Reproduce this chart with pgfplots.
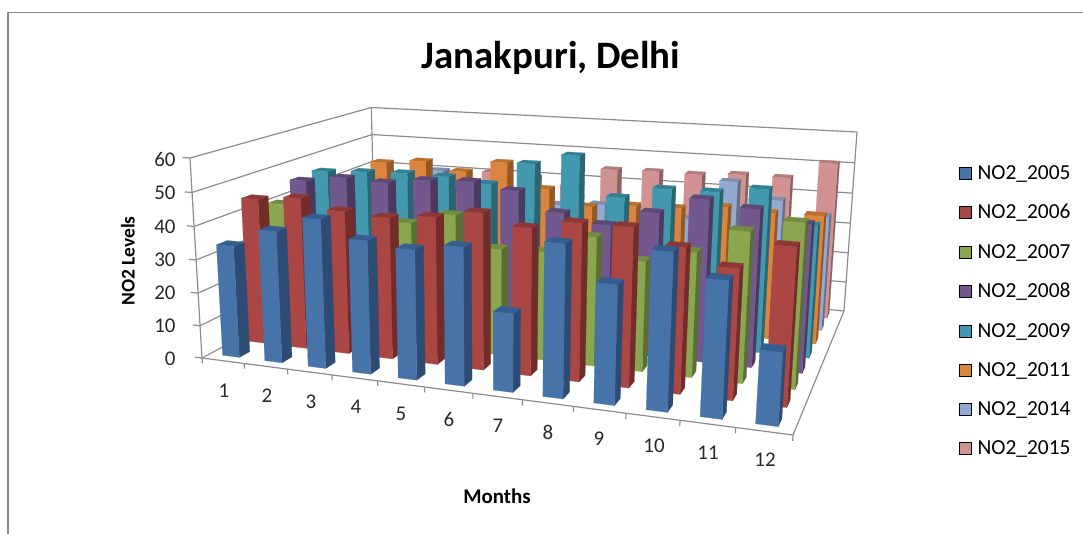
\documentclass[border=0pt]{standalone}
\usepackage{pgfplots}
\usepackage{pgfplotstable}
\usepackage{fontspec}
\setmainfont{Carlito}
\pgfplotsset{compat=1.18}

% Monthly NO2 levels, one column per year
\pgfplotstableread{
month y2005 y2006 y2007 y2008 y2009 y2011 y2014 y2015
1   33.9 45.0 40.6 45.4 45.9 40.0 36.0 34.0
2   39.5 46.3 35.0 47.3 46.7 47.4 38.0 36.0
3   44.2 43.5 31.0 46.7 47.2 48.7 43.0 38.0
4   39.2 42.6 38.0 48.4 47.0 46.1 36.0 40.8
5   37.8 43.9 41.6 49.0 45.6 50.0 38.0 40.0
6   39.8 46.3 32.4 47.1 52.9 42.3 34.0 38.0
7   22.5 43.1 32.8 41.4 56.3 37.5 35.3 44.5
8   43.2 45.6 38.4 38.8 44.3 38.9 33.0 44.8
9   33.4 45.6 32.6 43.6 47.9 39.2 32.8 44.7
10  43.5 41.2 36.5 48.6 48.0 40.6 45.8 45.6
11  37.3 36.8 43.6 46.8 49.8 39.8 40.8 45.5
12  19.9 43.9 47.2 43.6 40.0 40.0 36.7 51.0
}\notwo

% Face colours of each series: front, side, top
\definecolor{f1}{HTML}{4673A8}\definecolor{s1}{HTML}{2D4B73}\definecolor{t1}{HTML}{345D90}
\definecolor{f2}{HTML}{AA4643}\definecolor{s2}{HTML}{722D2B}\definecolor{t2}{HTML}{8E3836}
\definecolor{f3}{HTML}{8AA64F}\definecolor{s3}{HTML}{5B6E33}\definecolor{t3}{HTML}{748C41}
\definecolor{f4}{HTML}{72588F}\definecolor{s4}{HTML}{4B3A5F}\definecolor{t4}{HTML}{5E4878}
\definecolor{f5}{HTML}{4198AF}\definecolor{s5}{HTML}{2A6574}\definecolor{t5}{HTML}{338093}
\definecolor{f6}{HTML}{DB843D}\definecolor{s6}{HTML}{935826}\definecolor{t6}{HTML}{BC6F2F}
\definecolor{f7}{HTML}{94A9CF}\definecolor{s7}{HTML}{62718A}\definecolor{t7}{HTML}{7C8FB0}
\definecolor{f8}{HTML}{D19392}\definecolor{s8}{HTML}{8C6261}\definecolor{t8}{HTML}{B27C7B}
\definecolor{wall}{HTML}{8C8C8C}
\definecolor{ticktext}{HTML}{282828}
\definecolor{chartedge}{HTML}{868686}

% Perspective projection of (month position, series depth, level) onto the canvas
\newcommand\proj[5]{%
  \pgfmathsetmacro\pu{#1/12}\pgfmathsetmacro\pv{#2/8}\pgfmathsetmacro\pw{#3/60}%
  \pgfmathsetmacro\pd{1-0.154*\pu+0.2771*\pv-0.0399*\pw}%
  \pgfmathsetmacro#4{(202+468.9*\pu+277*\pv-19.6*\pw)/\pd}%
  \pgfmathsetmacro#5{534-(358+10*\pu-18.7*\pv-206.3*\pw)/\pd}%
}
% A straight frame or grid line between two projected points
\newcommand\frameline[6]{%
  \proj{#1}{#2}{#3}\lax\lay\proj{#4}{#5}{#6}\lbx\lby
  \edef\doline{\noexpand\addplot[wall,line width=1.2pt,no marks,forget plot] coordinates {(\lax,\lay) (\lbx,\lby)};}\doline
}
% Tick labels, positioned from the top edge of the canvas
\newcommand\lab[4][center]{\node[font=\fontsize{21}{22}\selectfont,text=ticktext,anchor=#1] at (axis cs:#3,534-#4) {#2};}

\begin{document}
\begin{tikzpicture}
\path[use as bounding box] (0,0) rectangle (1083bp,534bp);
\begin{axis}[
  at={(0,0)},anchor=south west,
  scale only axis,width=1083bp,height=534bp,
  xmin=0,xmax=1083,ymin=0,ymax=534,
  hide axis,clip=false,
  legend cell align=left,
  legend style={draw=none,fill=none,at={(axis cs:959,371)},anchor=north west,
    font=\fontsize{21.5}{22}\selectfont,
    /tikz/row sep=19.8bp,
    inner sep=0pt},
  legend image code/.code={\fill[#1] (0bp,-6bp) rectangle (12bp,6bp);\path (16bp,0bp);},
]
% chart area outline
\addplot[chartedge,line width=1.7pt,no marks,forget plot]
  coordinates {(8,0) (8,521.5) (1083,521.5)};

% walls and floor
\foreach \z in {0,10,...,60}{\frameline{0}{0}{\z}{0}{8}{\z}\frameline{0}{8}{\z}{12}{8}{\z}}
\frameline{0}{0}{0}{0}{0}{60}
\frameline{0}{8}{0}{0}{8}{60}
\frameline{12}{8}{0}{12}{8}{60}
\frameline{0}{0}{0}{12}{0}{0}
\frameline{12}{0}{0}{12}{8}{0}
% tick marks
\foreach \z in {0,10,...,60}{\frameline{0}{0}{\z}{-0.17}{0}{\z}}
\foreach \k in {0,...,12}{\frameline{\k}{0}{0}{\k}{0}{-1.6}}

% columns, painted from the back row forwards and right to left
\foreach \s in {8,7,...,1}{
  \foreach \m in {12,11,...,1}{
    \pgfmathtruncatemacro\row{\m-1}
    \pgfplotstablegetelem{\row}{[index]\s}\of\notwo
    \let\val\pgfplotsretval
    \pgfmathsetmacro\xa{\m-0.7}\pgfmathsetmacro\xb{\m-0.3}
    \pgfmathsetmacro\ya{\s-0.7}\pgfmathsetmacro\yb{\s-0.3}
    \proj{\xa}{\ya}{0}\Ax\Ay
    \proj{\xb}{\ya}{0}\Bx\By
    \proj{\xb}{\yb}{0}\Cx\Cy
    \proj{\xa}{\ya}{\val}\ax\ay
    \proj{\xb}{\ya}{\val}\bx\by
    \proj{\xb}{\yb}{\val}\cx\cy
    \proj{\xa}{\yb}{\val}\tdx\tdy
    \edef\dobar{%
      \noexpand\addplot[fill=s\s,draw=s\s,line width=0.2pt,no marks,forget plot]
        coordinates {(\Bx,\By) (\Cx,\Cy) (\cx,\cy) (\bx,\by)} --cycle;
      \noexpand\addplot[fill=t\s,draw=t\s,line width=0.2pt,no marks,forget plot]
        coordinates {(\ax,\ay) (\bx,\by) (\cx,\cy) (\tdx,\tdy)} --cycle;
      \noexpand\addplot[fill=f\s,draw=f\s,line width=0.2pt,no marks,forget plot]
        coordinates {(\Ax,\Ay) (\Bx,\By) (\bx,\by) (\ax,\ay)} --cycle;
    }\dobar
  }
}

% legend
\addlegendimage{fill=f1}\addlegendentry{NO2\_2005}
\addlegendimage{fill=f2}\addlegendentry{NO2\_2006}
\addlegendimage{fill=f3}\addlegendentry{NO2\_2007}
\addlegendimage{fill=f4}\addlegendentry{NO2\_2008}
\addlegendimage{fill=f5}\addlegendentry{NO2\_2009}
\addlegendimage{fill=f6}\addlegendentry{NO2\_2011}
\addlegendimage{fill=f7}\addlegendentry{NO2\_2014}
\addlegendimage{fill=f8}\addlegendentry{NO2\_2015}

% title and axis text
\node[font=\fontsize{39}{42}\bfseries\selectfont,text=black] at (axis cs:551,476) {Janakpuri, Delhi};
\node[font=\fontsize{19.5}{21}\bfseries\selectfont,rotate=90] at (axis cs:128,273) {NO2 Levels};
\node[font=\fontsize{21}{22}\bfseries\selectfont] at (axis cs:497,38) {Months};
\lab[east]{60}{179}{160}\lab[east]{50}{179}{193}\lab[east]{40}{179}{227}
\lab[east]{30}{179}{260}\lab[east]{20}{179}{293}\lab[east]{10}{179}{326}\lab[east]{0}{179}{359}
\lab{1}{224}{391}\lab{2}{267}{396}\lab{3}{311}{402}\lab{4}{356}{407}
\lab{5}{401}{414}\lab{6}{449}{420}\lab{7}{498}{426}\lab{8}{548}{432}
\lab{9}{599}{439}\lab{10}{654}{446}\lab{11}{708}{453}\lab{12}{765}{460}
\end{axis}
\end{tikzpicture}
\end{document}
